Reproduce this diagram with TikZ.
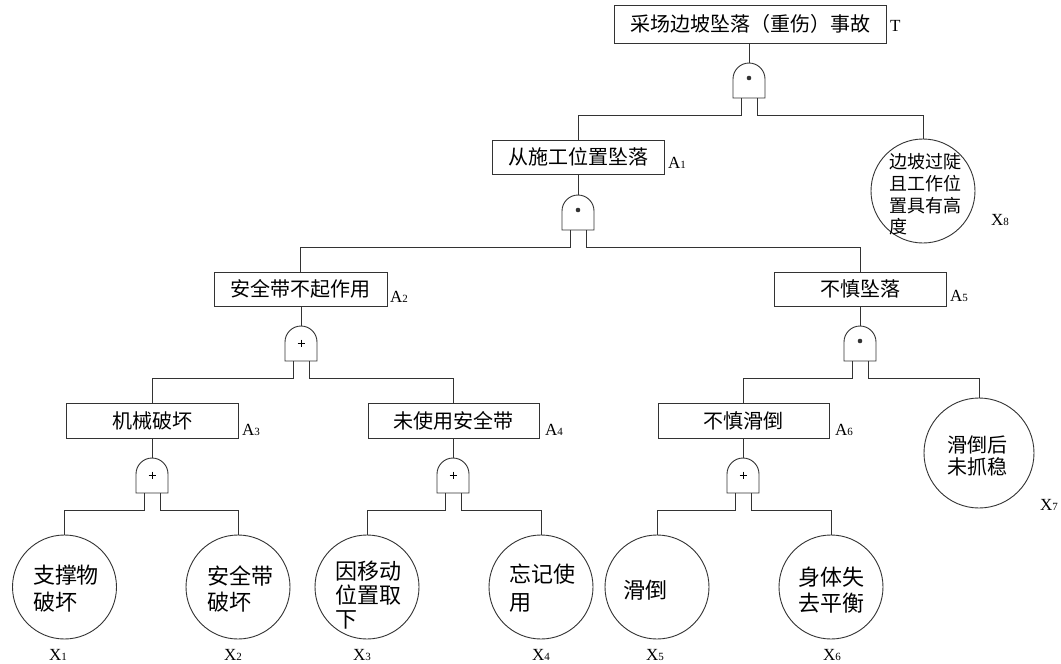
\documentclass[tikz,border=0pt]{standalone}
\usepackage{fontspec}
\setmainfont{Liberation Serif}
\newfontfamily\cjk{Noto Sans CJK SC}
\newcommand\flbl[2]{{\fontsize{17pt}{17pt}\selectfont #1}{\fontsize{11pt}{11pt}\selectfont #2}}
\newcommand\gateshape{%
  \draw[conn, fill=white] (-16,0) -- (-16,-19) .. controls (-16,-27.8) and (-8.8,-35) .. (0,-35)
     .. controls (8.8,-35) and (16,-27.8) .. (16,-19) -- (16,0) -- cycle;
  \coordinate (-in) at (0,-35);
  \coordinate (-l) at (-8,0);
  \coordinate (-r) at (8,0);
}
\tikzset{
  conn/.style={line width=0.9pt, draw=black!80},
  event/.style={draw=black!80, line width=0.9pt, rectangle, inner sep=0pt, font=\cjk\fontsize{20pt}{24pt}\selectfont},
  basic/.style={draw=black!80, line width=0.9pt, circle, inner sep=0pt, minimum size=104pt},
  ctext/.style={inner sep=0pt, align=left},
  lab/.style={inner sep=0pt},
  andgate/.pic={\gateshape \fill[black!80] (0,-20) circle[radius=2.3pt];},
  orgate/.pic={\gateshape \draw[line width=0.6pt] (-3.5,-18) -- (3.5,-18) (0,-21.5) -- (0,-14.5);}
}
\begin{document}
\begin{tikzpicture}[x=1pt,y=-1pt]
\useasboundingbox (0,0) rectangle (1061,664);
\fill[white] (0,0) rectangle (1061,664);

% events (rectangles)
\node[event, minimum width=272pt, minimum height=38pt] (T) at (750,24) {采场边坡坠落（重伤）事故};
\node[event, minimum width=172pt, minimum height=34pt] (A1) at (578,157) {从施工位置坠落};
\node[event, minimum width=173pt, minimum height=34pt] (A2) at (300.5,289) {安全带不起作用};
\node[event, minimum width=172pt, minimum height=34pt] (A5) at (860,289) {不慎坠落};
\node[event, minimum width=172pt, minimum height=35pt] (A3) at (152,420.5) {机械破坏};
\node[event, minimum width=171pt, minimum height=35pt] (A4) at (453.5,420.5) {未使用安全带};
\node[event, minimum width=171pt, minimum height=35pt] (A6) at (743.5,420.5) {不慎滑倒};

% basic events (circles)
\node[basic] (X8) at (923,191) {};
\node[basic, minimum size=110pt] (X7) at (979,453) {};
\node[basic] (X1) at (64.5,587) {};
\node[basic] (X2) at (238,587) {};
\node[basic] (X3) at (367,587) {};
\node[basic] (X4) at (541,587) {};
\node[basic] (X5) at (657,587) {};
\node[basic] (X6) at (831,587) {};

% circle texts
\node[ctext, text width=72pt, font=\cjk\fontsize{18pt}{21.7pt}\selectfont] (X8t) at (925,194.5) {边坡过陡\\且工作位\\置具有高\\度};
\node[ctext, text width=60pt, font=\cjk\fontsize{20pt}{22pt}\selectfont] (X7t) at (977,456) {滑倒后\\未抓稳};
\node[ctext, text width=66pt, font=\cjk\fontsize{22pt}{27pt}\selectfont] (X1t) at (66,588.5) {支撑物\\破坏};
\node[ctext, text width=66pt, font=\cjk\fontsize{22pt}{26pt}\selectfont] (X2t) at (240,589) {安全带\\破坏};
\node[ctext, text width=66pt, font=\cjk\fontsize{22pt}{24pt}\selectfont] (X3t) at (368,595) {因移动\\位置取\\下};
\node[ctext, text width=66pt, font=\cjk\fontsize{22pt}{28pt}\selectfont] (X4t) at (542,588) {忘记使\\用};
\node[ctext, text width=66pt, font=\cjk\fontsize{22pt}{26pt}\selectfont] (X5t) at (656,590) {滑倒};
\node[ctext, text width=66pt, font=\cjk\fontsize{22pt}{26pt}\selectfont] (X6t) at (831,590) {身体失\\去平衡};

% gates
\pic (g0) at (749,98) {andgate};
\pic (g1) at (578,230) {andgate};
\pic (g2) at (301,361) {orgate};
\pic (g5) at (860,361) {andgate};
\pic (g3) at (152,493) {orgate};
\pic (g4) at (453,493) {orgate};
\pic (g6) at (743,493) {orgate};

% connectors
\draw[conn] (T.south -| g0-in) -- (g0-in);
\draw[conn] (g0-l) -- ++(0,17) -| (A1.north);
\draw[conn] (g0-r) -- ++(0,17) -| (X8.north);

\draw[conn] (A1.south -| g1-in) -- (g1-in);
\draw[conn] (g1-l) -- ++(0,17) -| (A2.north);
\draw[conn] (g1-r) -- ++(0,17) -| (A5.north);

\draw[conn] (A2.south -| g2-in) -- (g2-in);
\draw[conn] (g2-l) -- ++(0,17) -| (A3.north);
\draw[conn] (g2-r) -- ++(0,17) -| (A4.north);

\draw[conn] (A5.south -| g5-in) -- (g5-in);
\draw[conn] (g5-l) -- ++(0,17) -| (A6.north);
\draw[conn] (g5-r) -- ++(0,17) -| (X7.north);

\draw[conn] (A3.south -| g3-in) -- (g3-in);
\draw[conn] (g3-l) -- ++(0,17) -| (X1.north);
\draw[conn] (g3-r) -- ++(0,17) -| (X2.north);

\draw[conn] (A4.south -| g4-in) -- (g4-in);
\draw[conn] (g4-l) -- ++(0,17) -| (X3.north);
\draw[conn] (g4-r) -- ++(0,17) -| (X4.north);

\draw[conn] (A6.south -| g6-in) -- (g6-in);
\draw[conn] (g6-l) -- ++(0,17) -| (X5.north);
\draw[conn] (g6-r) -- ++(0,17) -| (X6.north);

% labels
\node[lab, anchor=west] (Tl) at (890,26) {\fontsize{17pt}{17pt}\selectfont T};
\node[lab, anchor=west] (A1l) at (668,163) {\flbl{A}{1}};
\node[lab, anchor=west] (A2l) at (390,297) {\flbl{A}{2}};
\node[lab, anchor=west] (A3l) at (242,430) {\flbl{A}{3}};
\node[lab, anchor=west] (A4l) at (545,430) {\flbl{A}{4}};
\node[lab, anchor=west] (A5l) at (950,296) {\flbl{A}{5}};
\node[lab, anchor=west] (A6l) at (835,430) {\flbl{A}{6}};
\node[lab] (X1l) at (58,655) {\flbl{X}{1}};
\node[lab] (X2l) at (233,655) {\flbl{X}{2}};
\node[lab] (X3l) at (362,655) {\flbl{X}{3}};
\node[lab] (X4l) at (541,655) {\flbl{X}{4}};
\node[lab] (X5l) at (655,655) {\flbl{X}{5}};
\node[lab] (X6l) at (832,655) {\flbl{X}{6}};
\node[lab] (X7l) at (1049,505) {\flbl{X}{7}};
\node[lab] (X8l) at (1000,220) {\flbl{X}{8}};
\end{tikzpicture}
\end{document}
